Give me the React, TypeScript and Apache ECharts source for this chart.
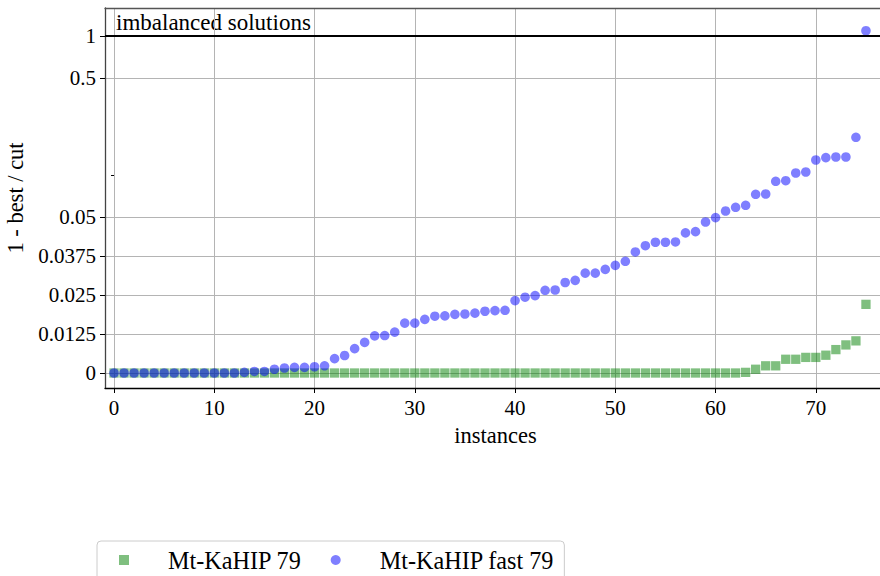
import React, { useEffect, useRef } from "react";
import * as echarts from "echarts";

// Instance index (sorted by quality gap)
const instances = [
  0, 1, 2, 3, 4, 5, 6, 7, 8, 9, 10, 11, 12, 13, 14, 15, 16, 17, 18, 19,
  20, 21, 22, 23, 24, 25, 26, 27, 28, 29, 30, 31, 32, 33, 34, 35, 36, 37, 38, 39,
  40, 41, 42, 43, 44, 45, 46, 47, 48, 49, 50, 51, 52, 53, 54, 55, 56, 57, 58, 59,
  60, 61, 62, 63, 64, 65, 66, 67, 68, 69, 70, 71, 72, 73, 74, 75,
];

// 1 - best / cut for Mt-KaHIP 79
const mtKahip = [
  0, 0, 0, 0, 0, 0, 0, 0, 0, 0, 0, 0, 0, 0, 0, 0, 0, 0, 0, 0,
  0, 0, 0, 0, 0, 0, 0, 0, 0, 0, 0, 0, 0, 0, 0, 0, 0, 0, 0, 0,
  0, 0, 0, 0, 0, 0, 0, 0, 0, 0, 0, 0, 0, 0, 0, 0, 0, 0, 0, 0,
  0, 0, 0, 0.0002, 0.0012, 0.0023, 0.0023, 0.0044, 0.0044, 0.005, 0.005, 0.0057, 0.0075, 0.009, 0.0103, 0.022,
];

// 1 - best / cut for Mt-KaHIP fast 79
const mtKahipFast = [
  0, 0, 0, 0, 0, 0, 0, 0, 0, 0, 0, 0, 0, 0.0002, 0.0005, 0.0005, 0.0012, 0.0016, 0.0018, 0.0018,
  0.002, 0.0023, 0.0046, 0.0056, 0.0078, 0.0098, 0.0119, 0.012, 0.0131, 0.016, 0.016, 0.0172, 0.0182, 0.0183, 0.0188, 0.0189, 0.0192, 0.0198, 0.02, 0.0201,
  0.0232, 0.0243, 0.0248, 0.0265, 0.0266, 0.029, 0.0297, 0.032, 0.032, 0.0332, 0.0345, 0.0358, 0.0388, 0.0408, 0.0419, 0.0419, 0.042, 0.0449, 0.0453, 0.0484,
  0.0498, 0.0552, 0.0587, 0.0607, 0.0728, 0.0732, 0.0903, 0.0912, 0.1036, 0.1054, 0.1285, 0.1336, 0.1351, 0.1351, 0.1872, 1.094,
];

const yTickValues = [0, 0.0125, 0.025, 0.0375, 0.05, 0.5, 1];
const yTickLabels = ["0", "0.0125", "0.025", "0.0375", "0.05", "0.5", "1"];
const yMinorTicks = [0.1];
const xTickValues = [0, 10, 20, 30, 40, 50, 60, 70];
const imbalanceLimit = 1;

// Piecewise scale: linear up to 0.05, logarithmic above it
const LIN_MAX = 0.05;
const LIN_SPAN = 156;
const LOG_DECADE = 139;
const toAxis = (v: number) =>
  v <= LIN_MAX ? (v / LIN_MAX) * LIN_SPAN : LIN_SPAN + Math.log10(v / LIN_MAX) * LOG_DECADE;

const FONT = "Liberation Serif";

export default function App() {
  const ref = useRef<HTMLDivElement>(null);

  useEffect(() => {
    if (!ref.current) return;
    const chart = echarts.init(ref.current, undefined, { renderer: "svg" });
    const yTickPos = yTickValues.map(toAxis);
    const yLabelFor = (t: number) => {
      const i = yTickPos.findIndex((p) => Math.abs(p - t) < 1e-6);
      return i >= 0 ? yTickLabels[i] : "";
    };
    const yMin = -15;
    const yMax = 365;
    const xMin = -0.9;
    const xMax = 77;

    chart.setOption({
      animation: false,
      textStyle: { fontFamily: FONT },
      grid: {
        left: 105,
        top: 8,
        width: 781,
        height: 380,
        containLabel: false,
        outerBoundsMode: "none",
      },
      xAxis: [
        {
          type: "value",
          min: xMin,
          max: xMax,
          name: "instances",
          nameLocation: "middle",
          nameGap: 36,
          nameTextStyle: { fontFamily: FONT, fontSize: 22.5, color: "#000" },
          axisLine: { show: true, onZero: false, lineStyle: { color: "#000", width: 1.3 } },
          axisTick: { show: true, length: 5, customValues: xTickValues, lineStyle: { color: "#000" } },
          axisLabel: {
            customValues: xTickValues,
            margin: 9,
            fontFamily: FONT,
            fontSize: 21,
            color: "#000",
          },
          splitLine: { show: true, lineStyle: { color: "#b4b4b4", width: 1 } },
        },
        {
          type: "value",
          position: "top",
          min: xMin,
          max: xMax,
          axisLine: { show: true, onZero: false, lineStyle: { color: "#555", width: 1.3 } },
          axisTick: { show: false },
          axisLabel: { show: false },
          splitLine: { show: false },
        },
      ],
      yAxis: [
        {
          type: "value",
          min: yMin,
          max: yMax,
          name: "1 - best / cut",
          nameLocation: "middle",
          nameGap: 77,
          nameRotate: 90,
          nameTextStyle: { fontFamily: FONT, fontSize: 22.5, color: "#000" },
          axisLine: { show: true, onZero: false, lineStyle: { color: "#444", width: 1.3 } },
          axisTick: { show: true, length: 5, customValues: yTickPos, lineStyle: { color: "#000" } },
          axisLabel: {
            customValues: yTickPos,
            formatter: (v: number) => yLabelFor(v),
            margin: 9,
            fontFamily: FONT,
            fontSize: 21,
            color: "#000",
          },
          splitLine: { show: true, lineStyle: { color: "#b4b4b4", width: 1 } },
        },
        {
          type: "value",
          min: yMin,
          max: yMax,
          position: "left",
          axisLine: { show: false },
          axisTick: { show: true, length: 3, customValues: yMinorTicks.map(toAxis), lineStyle: { color: "#000" } },
          axisLabel: { show: false, customValues: yMinorTicks.map(toAxis) },
          splitLine: { show: false },
        },
      ],
      legend: {
        left: 97,
        top: 541,
        orient: "horizontal",
        padding: [7, 10, 9, 22],
        borderColor: "#cccccc",
        borderWidth: 1,
        borderRadius: 4,
        itemWidth: 20,
        itemHeight: 10,
        itemGap: 29,
        symbolKeepAspect: true,
        textStyle: { fontFamily: FONT, fontSize: 24.2, color: "#000", padding: [0, 0, 0, 29] },
        data: [
          { name: "Mt-KaHIP 79", icon: "path://M0,0L1,0L1,1L0,1Z" },
          { name: "Mt-KaHIP fast 79", icon: "circle" },
        ],
      },
      series: [
        {
          name: "Mt-KaHIP 79",
          type: "scatter",
          symbol: "rect",
          symbolSize: 9.3,
          itemStyle: { color: "rgba(0,128,0,0.5)", opacity: 1 },
          data: instances.map((x, i) => [x, toAxis(mtKahip[i])]),
          z: 2,
        },
        {
          name: "Mt-KaHIP fast 79",
          type: "scatter",
          symbol: "circle",
          symbolSize: 9.6,
          itemStyle: { color: "rgba(0,0,255,0.5)", opacity: 1 },
          data: instances.map((x, i) => [x, toAxis(mtKahipFast[i])]),
          markLine: {
            silent: true,
            symbol: ["none", "none"],
            label: { show: false },
            lineStyle: { color: "#000", width: 2, type: "solid" },
            data: [{ yAxis: toAxis(imbalanceLimit) }],
          },
          z: 3,
        },
      ],
      graphic: [
        {
          type: "text",
          left: 116,
          top: 11,
          style: { text: "imbalanced solutions", fontFamily: FONT, fontSize: 23, fill: "#000" },
        },
      ],
    });
    return () => chart.dispose();
  }, []);

  return (
    <div
      ref={ref}
      style={{ position: "fixed", left: 0, top: 0, width: 880, height: 576, background: "#fff" }}
    />
  );
}
